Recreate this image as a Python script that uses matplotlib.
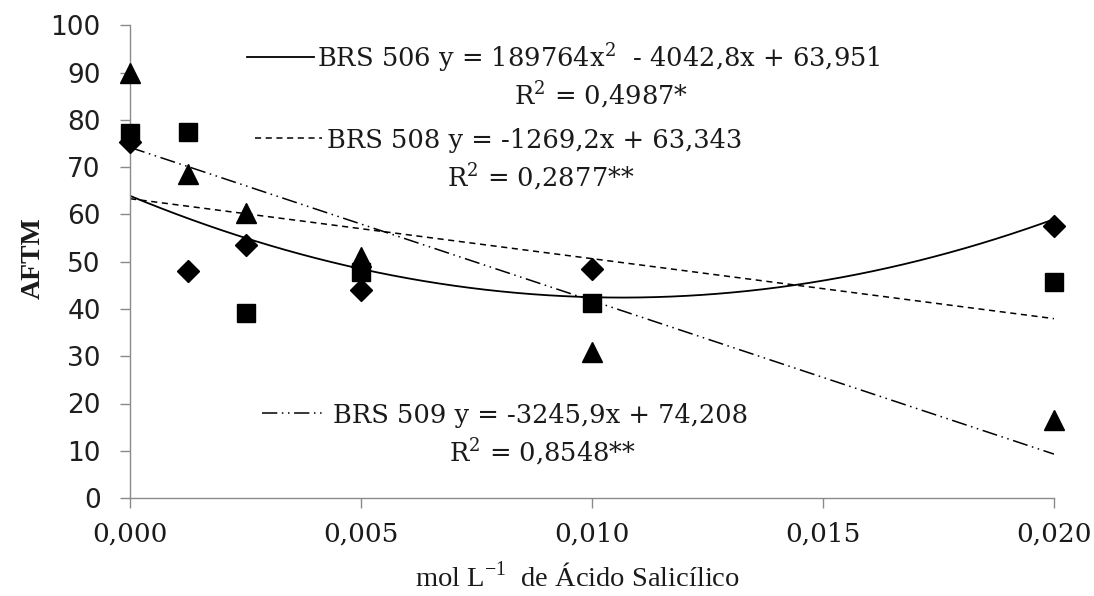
import numpy as np
import matplotlib
matplotlib.use("Agg")
import matplotlib.pyplot as plt
from matplotlib.lines import Line2D

# ---- data ----
x_vals = [0.0, 0.00125, 0.0025, 0.005, 0.010, 0.020]
brs506 = [75.3, 48.0, 53.5, 44.0, 48.5, 57.5]
brs508 = [77.2, 77.5, 39.2, 47.8, 41.3, 45.8]
brs509 = [90.0, 68.6, 60.3, 51.0, 30.9, 16.5]

# trend-line coefficients as printed on the chart
c506 = [189764.0, -4042.8, 63.951]   # quadratic
c508 = [-1269.2, 63.343]              # linear
c509 = [-3245.9, 74.208]              # linear

x_ticks = [0.0, 0.005, 0.010, 0.015, 0.020]
x_tick_labels = ['0,000', '0,005', '0,010', '0,015', '0,020']
y_ticks = list(range(0, 101, 10))

eq506 = 'BRS 506 y = 189764x$^{\\mathregular{2}}$  - 4042,8x + 63,951'
r506 = 'R$^{\\mathregular{2}}$ = 0,4987*'
eq508 = 'BRS 508 y = -1269,2x + 63,343'
r508 = 'R$^{\\mathregular{2}}$ = 0,2877**'
eq509 = 'BRS 509 y = -3245,9x + 74,208'
r509 = 'R$^{\\mathregular{2}}$ = 0,8548**'
xlabel = 'mol L$^{\\mathregular{-1}}$  de Ácido Salicílico'
ylabel = 'AFTM'

# ---- style ----
SERIF = 'DejaVu Serif'
SERIF2 = 'Liberation Serif'

W, H = 1094, 596
fig = plt.figure(figsize=(W / 100, H / 100), dpi=100)
ax = fig.add_axes([130 / W, 1 - 498 / H, (1054 - 130) / W, (498 - 25.5) / H])

axis_grey = '#8a8a8a'
txt_col = '#1a1a1a'
dash508 = (0, (4, 3))
dash509 = (0, (10, 3, 1, 3, 1, 3))

xf = np.linspace(x_ticks[0], x_ticks[-1], 300)
ax.plot(xf, np.polyval(c506, xf), color='black', lw=1.3, solid_capstyle='butt')
ax.plot(xf, np.polyval(c508, xf), color='black', lw=1.1, linestyle=dash508)
ax.plot(xf, np.polyval(c509, xf), color='black', lw=1.1, linestyle=dash509)

ax.plot(x_vals, brs506, linestyle='none', marker='D', ms=11.5, color='black', clip_on=False, zorder=3)
ax.plot(x_vals, brs508, linestyle='none', marker='s', ms=13.5, color='black', clip_on=False, zorder=3)
ax.plot(x_vals, brs509, linestyle='none', marker='^', ms=14, color='black', clip_on=False, zorder=3)

ax.set_xlim(x_ticks[0], x_ticks[-1])
ax.set_ylim(0, 100)
ax.set_xticks(x_ticks)
ax.set_xticklabels(x_tick_labels)
ax.set_yticks(y_ticks)

for s in ['top', 'right']:
    ax.spines[s].set_visible(False)
for s in ['left', 'bottom']:
    ax.spines[s].set_color(axis_grey)
    ax.spines[s].set_linewidth(1.0)

ax.tick_params(axis='both', direction='out', length=7, width=1.0, color=axis_grey)
ax.tick_params(axis='y', pad=14, labelsize=19, labelcolor='#1f1f1f')
ax.tick_params(axis='x', pad=10, labelcolor=txt_col)
for lab in ax.get_yticklabels():
    lab.set_fontfamily('DejaVu Sans')
for lab in ax.get_xticklabels():
    lab.set_fontfamily(SERIF)
    lab.set_fontsize(19)

fig.text(33 / W, 1 - 258 / H, ylabel, rotation=90, ha='center', va='center',
         fontsize=20, fontweight='bold', family=SERIF2, color=txt_col)
fig.text(577 / W, 1 - 578 / H, xlabel, ha='center', va='center',
         fontsize=20.5, family=SERIF2, color=txt_col)

def ftext(x, y, s, ha='left'):
    fig.text(x / W, 1 - y / H, s, ha=ha, va='baseline', fontsize=18.5,
             family=SERIF, color=txt_col)

ftext(317, 67, eq506)
ftext(601, 105, r506, ha='center')
ftext(327, 148, eq508)
ftext(541, 187, r508, ha='center')
ftext(333, 423, eq509)
ftext(543, 462, r509, ha='center')

def sample(x0, x1, y, ls, lw):
    fig.add_artist(Line2D([x0 / W, x1 / W], [1 - y / H, 1 - y / H],
                          transform=fig.transFigure, color='black', lw=lw, linestyle=ls))

sample(247, 314, 57, '-', 1.3)
sample(255, 322, 138, dash508, 1.1)
sample(262, 326, 413, dash509, 1.1)

fig.savefig('out.png', dpi=100)
